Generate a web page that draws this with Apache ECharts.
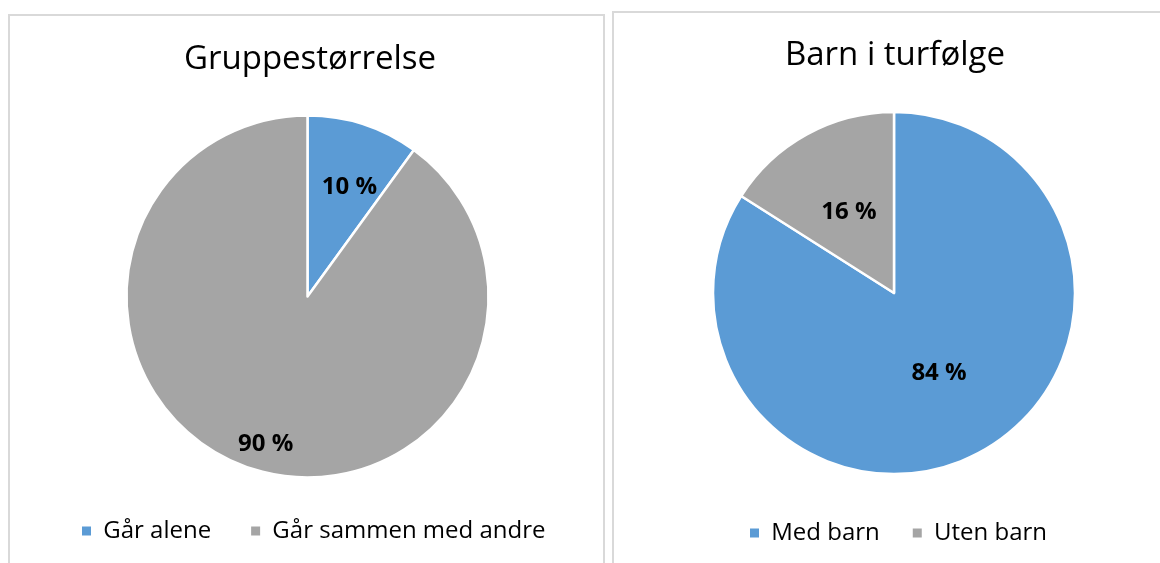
<!DOCTYPE html>
<html lang="no">
<head>
  <meta charset="UTF-8">
  <title>Gruppestørrelse / Barn i turfølge</title>
  <style>
    body { margin: 0; background: #fff; width: 1160px; height: 563px; overflow: hidden; position: relative; }
    .panel { position: absolute; box-sizing: border-box; border: 2px solid #d9d9d9; background: #fff; }
    #panel1 { left: 8px; top: 14px; width: 597px; height: 570px; }
    #panel2 { left: 612px; top: 11px; width: 570px; height: 570px; }
    .chart { position: absolute; left: 0; top: 0; width: 100%; height: 100%; }
  </style>
  <script src="https://cdn.jsdelivr.net/npm/echarts@6/dist/echarts.min.js"></script>
</head>
<body>
  <div class="panel" id="panel1"><div class="chart" id="main"></div></div>
  <div class="panel" id="panel2"><div class="chart" id="main2"></div></div>

  <script>
    // data
    var groupTitle = 'Gruppestørrelse';
    var groupNames = ['Går alene', 'Går sammen med andre'];
    var groupValues = [10, 90];

    var childTitle = 'Barn i turfølge';
    var childNames = ['Med barn', 'Uten barn'];
    var childValues = [84, 16];

    var colors = ['#5B9BD5', '#A5A5A5'];
    var font = '"Open Sans", "Noto Sans", sans-serif';

    function pieOption(title, names, values, opts) {
      return {
        animation: false,
        color: colors,
        title: {
          text: title,
          left: opts.titleX,
          top: opts.titleY,
          textAlign: 'center',
          textStyle: { fontFamily: font, fontSize: 33, fontWeight: 'normal', color: '#000' }
        },
        legend: {
          data: names,
          left: opts.legendX,
          top: opts.legendY,
          padding: 0,
          icon: 'rect',
          itemWidth: 11,
          itemHeight: 11,
          itemGap: opts.legendGap,
          formatter: ' {name}',
          textStyle: { fontFamily: font, fontSize: 24, color: '#000' }
        },
        series: [{
          type: 'pie',
          center: opts.center,
          radius: [0, 181],
          startAngle: 90,
          clockwise: true,
          silent: true,
          itemStyle: { borderColor: '#fff', borderWidth: 2.5 },
          label: {
            show: true,
            position: 'inside',
            formatter: '{d} %',
            fontFamily: font,
            fontSize: 24,
            fontWeight: 'bold',
            color: '#000'
          },
          labelLine: { show: false },
          data: names.map(function (n, i) {
            return { name: n, value: values[i], label: { offset: opts.offsets[i] } };
          })
        }]
      };
    }

    var myChart = echarts.init(document.getElementById('main'));
    var myChart2 = echarts.init(document.getElementById('main2'));

    myChart.setOption(pieOption(groupTitle, groupNames, groupValues, {
      titleX: 295, titleY: 22, legendX: 70, legendY: 503, legendGap: 38,
      center: [297.5, 280.5], offsets: [[13, -20], [-13, 59]]
    }));
    myChart2.setOption(pieOption(childTitle, childNames, childValues, {
      titleX: 276, titleY: 21, legendX: 134, legendY: 508, legendGap: 31,
      center: [280, 280], offsets: [[0, -2], [0, 1]]
    }));
  </script>
</body>
</html>
